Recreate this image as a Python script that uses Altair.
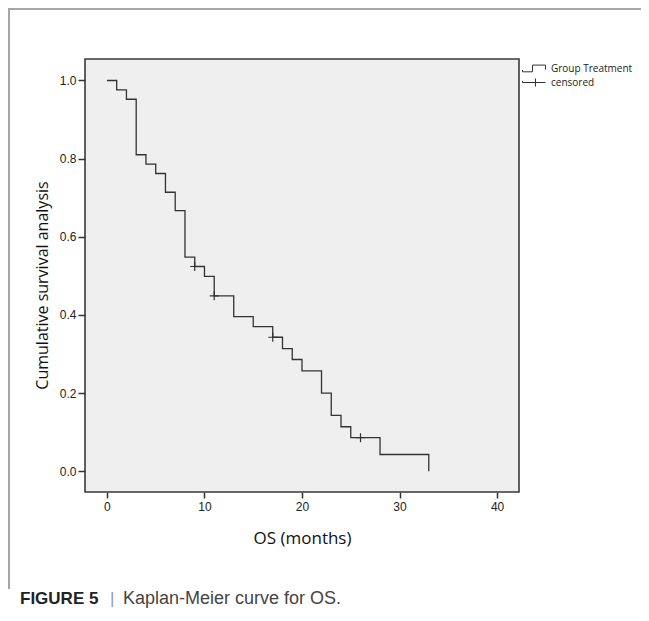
import altair as alt
import pandas as pd

# Kaplan-Meier step curve
times = [0, 1, 2, 3, 4, 5, 6, 7, 8, 9, 10, 11, 13, 15, 17, 18, 19, 20, 22, 23, 24, 25, 28, 33]
survival = [1.0, 0.976, 0.952, 0.810, 0.786, 0.762, 0.714, 0.667, 0.548, 0.524, 0.499, 0.449,
            0.396, 0.370, 0.343, 0.314, 0.286, 0.257, 0.200, 0.143, 0.114, 0.086, 0.043, 0.0]

# censored observations
censor_times = [9, 11, 17, 26]
censor_survival = [0.524, 0.449, 0.343, 0.086]

x_ticks = [0, 10, 20, 30, 40]
y_ticks = [0.0, 0.2, 0.4, 0.6, 0.8, 1.0]
legend_labels = ["Group Treatment", "censored"]
x_title = "OS (months)"
y_title = "Cumulative survival analysis"
caption_bold = "FIGURE 5"
caption_sep = "|"
caption_rest = "Kaplan-Meier curve for OS."

curve_df = pd.DataFrame({"t": times, "s": survival})
censor_df = pd.DataFrame({"t": censor_times, "s": censor_survival})
legend_df = pd.DataFrame({"kind": legend_labels,
                          "t": [times[0]] * len(legend_labels),
                          "s": [survival[0]] * len(legend_labels)})
one_df = pd.DataFrame({"k": [0]})

W, H = 434, 433
PAD_R = 122
INK = "#333333"

xscale = alt.Scale(domain=[-2.25, 42.25], nice=False, zero=False)
yscale = alt.Scale(domain=[-0.053, 1.055], nice=False, zero=False)

xaxis = alt.Axis(values=x_ticks, format="d", title=x_title, grid=False, domain=False,
                 tickSize=6, tickColor=INK, tickWidth=1.5, labelPadding=3,
                 labelFont="Liberation Sans", labelFontSize=12, labelColor="#222222",
                 titleFont="Open Sans", titleFontSize=17, titleFontWeight="normal",
                 titleColor="#111111", titlePadding=18)
yaxis = alt.Axis(values=y_ticks, format=".1f", title=y_title, grid=False, domain=False,
                 tickSize=7, tickColor=INK, tickWidth=1.5, labelPadding=2,
                 labelFont="Liberation Sans", labelFontSize=12, labelColor="#222222",
                 titleFont="Open Sans", titleFontSize=16, titleFontWeight="normal",
                 titleColor="#111111", titlePadding=9, titleY=226)

curve = alt.Chart(curve_df).mark_line(interpolate="step-after", color=INK, strokeWidth=1.3).encode(
    x=alt.X("t:Q", scale=xscale, axis=xaxis),
    y=alt.Y("s:Q", scale=yscale, axis=yaxis),
)

censors = alt.Chart(censor_df).mark_point(
    shape="M-1,0L1,0M0,-1L0,1", size=81, filled=False, stroke=INK, strokeWidth=1.2, opacity=1
).encode(x="t:Q", y="s:Q")

path_group = "M-1,0.3L-1,0.66L1,0.66L1,-0.68L3.6,-0.68L3.6,0.2"
path_cens = "M-1,-0.3L-1,0M-1,0L3.6,0M1.6,-0.8L1.6,0.8"

legend_layer = alt.Chart(legend_df).mark_point(filled=False, color=INK, opacity=0).encode(
    x="t:Q", y="s:Q",
    shape=alt.Shape("kind:N", sort=legend_labels,
                    scale=alt.Scale(domain=legend_labels, range=[path_group, path_cens]),
                    legend=alt.Legend(title=None, orient="none", legendX=437, legendY=4,
                                      symbolSize=100, symbolStrokeColor=INK, symbolStrokeWidth=1,
                                      symbolFillColor="transparent", symbolOpacity=1,
                                      labelFont="Open Sans", labelFontSize=10, labelColor="#222222",
                                      labelOffset=18, rowPadding=2, padding=0)),
)

# outer figure frame (top and left)
frame_top = alt.Chart(one_df).mark_rule(color="#a6a6a6", strokeWidth=2).encode(
    x=alt.value(-77), x2=alt.value(W + PAD_R), y=alt.value(-50))
frame_left = alt.Chart(one_df).mark_rule(color="#a6a6a6", strokeWidth=2).encode(
    x=alt.value(-76), y=alt.value(-51), y2=alt.value(530))

cap1 = alt.Chart(one_df).mark_text(text=caption_bold, font="Liberation Sans", fontSize=17,
                                   fontWeight="bold", color="#222222", align="left",
                                   baseline="alphabetic").encode(x=alt.value(-65), y=alt.value(545))
cap2 = alt.Chart(one_df).mark_text(text=caption_sep, font="Liberation Sans", fontSize=17,
                                   color="#9a9a9a", align="left",
                                   baseline="alphabetic").encode(x=alt.value(25), y=alt.value(545))
cap3 = alt.Chart(one_df).mark_text(text=caption_rest, font="Liberation Sans", fontSize=18,
                                   color="#444444", align="left",
                                   baseline="alphabetic").encode(x=alt.value(38), y=alt.value(545))

chart = alt.layer(curve, censors, legend_layer, frame_top, frame_left, cap1, cap2, cap3).properties(
    width=W, height=H,
    padding={"left": 77, "top": 51, "right": PAD_R, "bottom": 118},
    autosize=alt.AutoSizeParams(type="none"),
    background="white",
).configure_view(fill="#efefef", stroke="#3a3a3a", strokeWidth=1.6)

chart.save("out.html", embed_options={"renderer": "svg", "actions": False})
